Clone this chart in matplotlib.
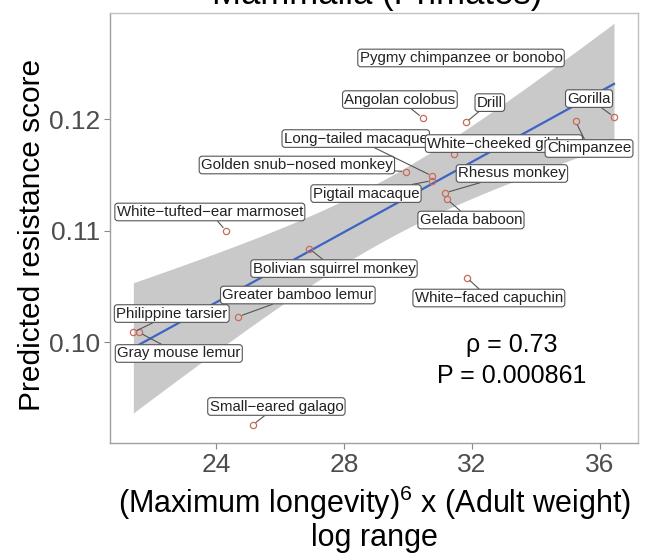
import numpy as np
import matplotlib
matplotlib.use("Agg")
import matplotlib.pyplot as plt

plt.rcParams["font.family"] = ["Liberation Sans", "DejaVu Sans"]
plt.rcParams["mathtext.fontset"] = "custom"
plt.rcParams["mathtext.rm"] = "Liberation Sans"

# species, x = (max longevity)^6 x (adult weight) log range, y = predicted resistance score
species = [
    "Small\u2212eared galago", "Philippine tarsier", "Gray mouse lemur",
    "Greater bamboo lemur", "White\u2212tufted\u2212ear marmoset", "Bolivian squirrel monkey",
    "Golden snub\u2212nosed monkey", "Long\u2212tailed macaque", "Pigtail macaque",
    "Angolan colobus", "Rhesus monkey", "Gelada baboon", "White\u2212cheeked gibbon",
    "Drill", "White\u2212faced capuchin", "Pygmy chimpanzee or bonobo",
    "Chimpanzee", "Gorilla",
]
log_range = [25.15, 21.42, 21.59, 24.70, 24.31, 26.92, 29.94, 30.76, 30.76,
             30.46, 31.17, 31.23, 31.44, 31.81, 31.84, 31.94, 35.24, 36.44]
score = [0.0926, 0.1009, 0.1009, 0.1023, 0.1100, 0.1084, 0.1153, 0.1149, 0.1145,
         0.1201, 0.1134, 0.1128, 0.1169, 0.1197, 0.1058, 0.1255, 0.1198, 0.1202]

# where the repelled labels sit (data coords)
label_x = [25.89, 22.62, 22.84, 26.56, 23.81, 27.69, 26.53, 28.37, 28.69,
           29.75, 33.25, 31.97, 33.0, 32.56, 32.53, 31.66, 35.66, 35.66]
label_y = [0.09425, 0.10258, 0.09900, 0.10424, 0.11168, 0.10661, 0.11589, 0.11826, 0.11333,
           0.12175, 0.11513, 0.11096, 0.11781, 0.12148, 0.10397, 0.12548, 0.11737, 0.12184]

rho_label = "\u03c1 = 0.73"
p_label = "P = 0.000861"

x = np.array(log_range)
y = np.array(score)

# linear fit + 95% confidence band (like geom_smooth(method="lm"))
n = len(x)
slope, intercept = np.polyfit(x, y, 1)
xs = np.linspace(x.min(), x.max(), 100)
ys = intercept + slope * xs
resid = y - (intercept + slope * x)
s = np.sqrt(np.sum(resid ** 2) / (n - 2))
sxx = np.sum((x - x.mean()) ** 2)
se = s * np.sqrt(1 / n + (xs - x.mean()) ** 2 / sxx)
t_crit = 2.1199  # t(0.975, df=16)

fig = plt.figure(figsize=(6.52, 5.58), dpi=100)
ax = fig.add_axes([0.1687, 0.2061, 0.8098, 0.7706])

ax.fill_between(xs, ys - t_crit * se, ys + t_crit * se, color="#c9c9c9", lw=0, zorder=1)
ax.plot(xs, ys, color="#3d63c4", lw=1.6, zorder=2)
ax.plot(x, y, "o", mfc="none", mec="#c86b5a", ms=4.5, mew=0.9, zorder=3)

ax.set_xlim(20.69, 37.19)
ax.set_ylim(0.09098, 0.12951)

# labels with leader segments
for i, name in enumerate(species):
    px, py = ax.transData.transform((x[i], y[i]))
    lx, ly = ax.transData.transform((label_x[i], label_y[i]))
    far = abs(px - lx) > 60 or abs(py - ly) > 14
    arrow = dict(arrowstyle="-", color="#555555", lw=0.8, shrinkA=0, shrinkB=3) if far else None
    ax.annotate(name, xy=(x[i], y[i]), xytext=(label_x[i], label_y[i]),
                ha="center", va="center", fontsize=10.8, color="#222222",
                bbox=dict(boxstyle="round,pad=0.12,rounding_size=0.2", fc="white",
                          ec="#555555", lw=0.8),
                arrowprops=arrow, zorder=4)

ax.text(0.761, 0.229, rho_label, transform=ax.transAxes, ha="center", va="center", fontsize=18)
ax.text(0.761, 0.156, p_label, transform=ax.transAxes, ha="center", va="center", fontsize=18)

ax.set_xticks([24, 28, 32, 36])
ax.set_yticks([0.10, 0.11, 0.12])
ax.set_yticklabels(["0.10", "0.11", "0.12"])
ax.tick_params(labelsize=19, labelcolor="#4d4d4d", color="#888888", length=4, width=0.8, pad=3)
for side in ["top", "right"]:
    ax.spines[side].set_color("#c0c0c0")
for side in ["bottom", "left"]:
    ax.spines[side].set_color("#a0a0a0")
for sp in ax.spines.values():
    sp.set_linewidth(1.0)

fig.text(0.578, 1 - 4 / 558, "Mammalia (Primates)", ha="center", va="baseline", fontsize=25)
fig.text(0.575, 1 - 503 / 558, r"(Maximum longevity)$^{6}$ x (Adult weight)",
         ha="center", va="center", fontsize=22)
fig.text(0.575, 1 - 538 / 558, "log range", ha="center", va="center", fontsize=22)
fig.text(32 / 652, 1 - 235 / 558, "Predicted resistance score", rotation=90,
         ha="center", va="center", fontsize=21.5)

fig.savefig("out.png", dpi=100)
